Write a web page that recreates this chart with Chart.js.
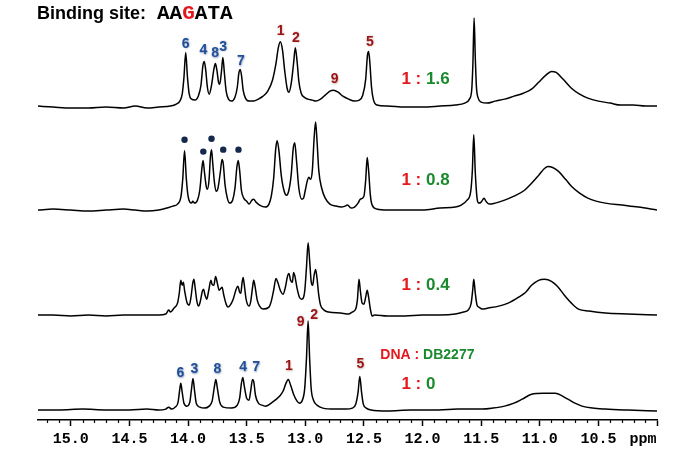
<!DOCTYPE html>
<html>
<head>
<meta charset="utf-8">
<script src="https://cdn.jsdelivr.net/npm/chart.js@4.4.1/dist/chart.umd.min.js"></script>
<style>
  html, body { margin: 0; padding: 0; background: #fff; }
  canvas { display: block; }
</style>
</head>
<body>
<canvas id="nmr" width="692" height="464"></canvas>
<script>
// Espectros de iminos (ppm, intensidad), uno por relacion DNA:DB2277
const spec16 = [[15.28,1],[15.15,0],[15.0,-1],[14.85,-1],[14.7,0],[14.55,-1],[14.45,1],[14.35,-1],[14.25,0],[14.15,1],[14.1,3],[14.07,6],[14.05,13],[14.035,30],[14.02,55],[14.005,30],[13.99,13],[13.97,8],[13.94,7],[13.91,12],[13.89,22],[13.873,42],[13.862,46],[13.85,38],[13.835,20],[13.82,13],[13.80,22],[13.78,38],[13.767,44],[13.755,38],[13.74,25],[13.73,23],[13.715,36],[13.703,50],[13.69,34],[13.675,16],[13.655,8],[13.63,6],[13.6,10],[13.58,20],[13.567,34],[13.555,38],[13.543,31],[13.53,17],[13.51,9],[13.48,6],[13.44,6],[13.40,8],[13.36,11],[13.32,16],[13.28,27],[13.25,44],[13.23,60],[13.213,66],[13.195,58],[13.175,36],[13.155,19],[13.14,15],[13.12,24],[13.10,44],[13.085,60],[13.07,46],[13.055,26],[13.035,14],[13.01,10],[12.98,8],[12.94,7],[12.91,6],[12.87,8],[12.83,12],[12.79,16],[12.76,17],[12.72,15],[12.68,11],[12.63,8],[12.58,6],[12.54,7],[12.51,12],[12.485,28],[12.47,52],[12.46,56],[12.45,46],[12.435,20],[12.42,8],[12.39,2],[12.3,1],[12.15,0],[12.0,0],[11.85,1],[11.72,2],[11.64,4],[11.6,8],[11.58,18],[11.57,45],[11.56,90],[11.55,50],[11.54,20],[11.525,9],[11.5,5],[11.45,4],[11.38,6],[11.3,8],[11.22,11],[11.14,14],[11.07,18],[11.01,25],[10.95,32],[10.9,36],[10.86,35],[10.8,28],[10.73,19],[10.66,13],[10.59,9],[10.5,6],[10.4,4],[10.31,2],[10.2,2],[10.1,1],[10.0,1]];

const spec08 = [[15.28,0],[15.15,1],[15.0,0],[14.85,-1],[14.7,0],[14.55,1],[14.45,0],[14.35,-1],[14.25,0],[14.18,2],[14.13,4],[14.09,6],[14.06,14],[14.045,32],[14.03,60],[14.015,32],[14.0,14],[13.985,8],[13.97,7],[13.96,9],[13.945,7],[13.92,10],[13.9,20],[13.882,42],[13.872,50],[13.86,38],[13.845,24],[13.835,21],[13.82,32],[13.81,53],[13.80,61],[13.79,48],[13.775,28],[13.76,19],[13.745,22],[13.725,38],[13.71,51],[13.70,47],[13.685,26],[13.665,12],[13.645,7],[13.62,10],[13.6,22],[13.583,44],[13.572,50],[13.56,40],[13.545,20],[13.525,12],[13.5,9],[13.48,6],[13.455,10],[13.44,11],[13.42,8],[13.39,5],[13.34,3],[13.31,6],[13.29,14],[13.27,32],[13.252,62],[13.24,70],[13.225,60],[13.205,35],[13.18,19],[13.16,15],[13.14,20],[13.12,36],[13.103,62],[13.09,68],[13.075,50],[13.055,22],[13.03,11],[13.015,12],[13.0,20],[12.982,30],[12.97,33],[12.955,31],[12.94,40],[12.925,72],[12.912,89],[12.9,70],[12.885,40],[12.86,22],[12.83,12],[12.79,6],[12.74,4],[12.69,3],[12.66,4],[12.64,5],[12.61,2],[12.58,3],[12.55,7],[12.53,11],[12.5,14],[12.485,30],[12.472,53],[12.46,40],[12.445,15],[12.43,5],[12.39,1],[12.3,0],[12.15,0],[12.0,0],[11.85,2],[11.72,3],[11.67,5],[11.62,10],[11.59,18],[11.575,40],[11.563,76],[11.55,38],[11.535,12],[11.52,7],[11.5,8],[11.475,12],[11.46,9],[11.43,6],[11.38,7],[11.3,10],[11.22,14],[11.13,20],[11.07,27],[11.01,35],[10.96,42],[10.93,44],[10.89,43],[10.84,39],[10.78,31],[10.73,24],[10.66,17],[10.59,12],[10.52,9],[10.44,7],[10.3,5],[10.16,3],[10.0,0]];

const spec04 = [[15.28,0],[15.15,0],[15.0,-1],[14.85,0],[14.7,-1],[14.55,0],[14.4,0],[14.25,0],[14.19,1],[14.165,5],[14.15,3],[14.12,7],[14.09,12],[14.075,22],[14.062,35],[14.05,30],[14.04,33],[14.03,25],[14.01,13],[13.99,10],[13.975,18],[13.96,32],[13.95,36],[13.94,28],[13.925,14],[13.91,9],[13.895,14],[13.878,24],[13.868,26],[13.855,20],[13.84,16],[13.825,24],[13.805,35],[13.795,31],[13.78,30],[13.765,39],[13.75,32],[13.735,25],[13.72,27],[13.71,28],[13.695,20],[13.675,11],[13.66,8],[13.64,10],[13.615,16],[13.59,26],[13.575,29],[13.56,23],[13.55,22],[13.54,32],[13.53,38],[13.52,30],[13.505,16],[13.48,9],[13.465,14],[13.45,28],[13.44,35],[13.43,30],[13.41,15],[13.39,9],[13.36,6],[13.31,8],[13.29,14],[13.27,25],[13.25,37],[13.235,33],[13.21,24],[13.19,21],[13.17,28],[13.15,40],[13.14,42],[13.125,35],[13.11,33],[13.1,43],[13.09,40],[13.07,27],[13.05,18],[13.03,16],[13.005,24],[12.99,48],[12.976,73],[12.963,55],[12.95,34],[12.937,30],[12.925,40],[12.912,46],[12.9,37],[12.885,20],[12.87,10],[12.84,5],[12.8,3],[12.7,2],[12.63,1],[12.6,3],[12.57,6],[12.555,16],[12.542,36],[12.53,24],[12.515,12],[12.5,11],[12.485,18],[12.472,25],[12.46,18],[12.445,6],[12.43,-1],[12.41,0],[12.3,-1],[12.15,-1],[12.0,0],[11.85,0],[11.72,1],[11.65,3],[11.61,5],[11.585,12],[11.572,25],[11.563,36],[11.55,22],[11.535,10],[11.52,8],[11.49,6],[11.44,7],[11.35,9],[11.27,12],[11.18,18],[11.12,23],[11.07,30],[11.01,35],[10.96,36],[10.9,34],[10.85,29],[10.79,20],[10.73,12],[10.67,6],[10.58,4],[10.44,2],[10.25,1],[10.0,0]];

const spec00 = [[15.28,0],[15.1,0],[14.9,1],[14.7,0],[14.5,0],[14.35,1],[14.25,0],[14.19,1],[14.165,3],[14.14,1],[14.11,3],[14.085,8],[14.072,20],[14.062,27],[14.05,18],[14.035,7],[14.01,4],[13.985,8],[13.97,22],[13.958,32],[13.945,20],[13.93,7],[13.9,3],[13.86,2],[13.82,4],[13.795,9],[13.775,24],[13.763,31],[13.75,22],[13.73,8],[13.7,3],[13.63,2],[13.58,5],[13.56,12],[13.545,27],[13.533,33],[13.52,24],[13.5,12],[13.48,10],[13.465,20],[13.45,31],[13.44,29],[13.425,15],[13.4,7],[13.37,5],[13.34,4],[13.28,8],[13.22,14],[13.19,19],[13.165,27],[13.145,31],[13.125,25],[13.1,16],[13.07,9],[13.05,7],[13.025,10],[13.005,22],[12.99,52],[12.976,90],[12.963,52],[12.95,22],[12.93,10],[12.9,5],[12.85,2],[12.75,1],[12.65,1],[12.6,2],[12.57,6],[12.55,18],[12.535,34],[12.52,18],[12.505,6],[12.48,2],[12.44,0],[12.3,-1],[12.1,0],[11.86,0],[11.7,1],[11.49,1],[11.4,2],[11.3,4],[11.22,7],[11.15,11],[11.07,16],[10.97,17],[10.87,17],[10.76,11],[10.7,7],[10.64,4],[10.55,2],[10.44,1],[10.25,0],[10.0,-1]];

// Relaciones y etiquetas
const ratios = ['1.6', '0.8', '0.4', '0'];
const bluePeaks = ['3', '4', '6', '7', '8'];
// [etiqueta, ppm, altura de anclaje]
const peakLabels16 = [['6',14.02,64],['4',13.87,57],['8',13.77,54],['3',13.70,61],['7',13.55,46],['1',13.21,77],['2',13.08,70],['9',12.75,28],['5',12.45,66]];
const peakLabels00 = [['6',14.065,37],['3',13.945,41],['8',13.75,41],['4',13.53,43],['7',13.42,43],['1',13.14,44],['9',13.04,89],['2',12.925,96],['5',12.53,46]];
// Puntos sobre picos (1:0.8)
const dots08 = [[14.03,71],[13.87,59],[13.80,72],[13.70,61],[13.57,61]];

const toXY = (arr) => arr.map(([x, y]) => ({ x, y }));

const SANS = '"Liberation Sans", Arial, sans-serif';
const MONO = '"Liberation Mono", "Courier New", monospace';
const RED = '#e3191c';
const GREEN = '#1b8a2e';

function drawParts(ctx, x, y, parts, font) {
  ctx.font = font;
  ctx.textBaseline = 'middle';
  ctx.textAlign = 'left';
  parts.forEach(([t, c]) => {
    ctx.fillStyle = c;
    ctx.fillText(t, x, y);
    x += ctx.measureText(t).width;
  });
}

function drawPeakLabel(ctx, text, x, y) {
  const blue = bluePeaks.includes(text);
  ctx.save();
  ctx.font = 'bold 14px ' + SANS;
  ctx.textAlign = 'center';
  ctx.textBaseline = 'middle';
  ctx.shadowColor = blue ? 'rgba(70,90,130,0.6)' : 'rgba(120,60,60,0.4)';
  ctx.shadowBlur = 2;
  ctx.shadowOffsetX = 0.5;
  ctx.shadowOffsetY = 0.5;
  ctx.fillStyle = blue ? '#1f4f9a' : '#9b1414';
  ctx.fillText(text, x, y);
  ctx.restore();
}

const annotations = {
  id: 'annotations',
  afterDraw(chart) {
    const ctx = chart.ctx;
    const xs = chart.scales.x;
    const axes = ['y16', 'y08', 'y04', 'y00'].map((id) => chart.scales[id]);

    // ticks menores cada 0.1 ppm
    ctx.save();
    ctx.strokeStyle = '#000';
    ctx.lineWidth = 1.2;
    for (let i = 100; i <= 152; i++) {
      if (i % 5 === 0) continue;
      const px = Math.round(xs.getPixelForValue(i / 10)) + 0.5;
      ctx.beginPath();
      ctx.moveTo(px, xs.top);
      ctx.lineTo(px, xs.top + 3);
      ctx.stroke();
    }
    ctx.restore();

    // ppm
    ctx.save();
    ctx.font = 'bold 15px ' + MONO;
    ctx.fillStyle = '#000';
    ctx.textAlign = 'center';
    ctx.textBaseline = 'middle';
    ctx.fillText('ppm', xs.getPixelForValue(10.12), xs.top + 19);
    ctx.restore();

    // titulo
    ctx.save();
    ctx.textBaseline = 'alphabetic';
    ctx.font = 'bold 18px ' + SANS;
    ctx.fillStyle = '#000';
    ctx.fillText('Binding site:', 37, 19);
    let tx = 157;
    ctx.font = 'bold 21px ' + MONO;
    [['AA', '#000'], ['G', RED], ['ATA', '#000']].forEach(([t, c]) => {
      ctx.fillStyle = c;
      ctx.fillText(t, tx, 19);
      tx += ctx.measureText(t).width;
    });
    ctx.restore();

    // etiquetas de picos
    peakLabels16.forEach(([t, p, h]) => drawPeakLabel(ctx, t, xs.getPixelForValue(p), axes[0].getPixelForValue(h)));
    peakLabels00.forEach(([t, p, h]) => drawPeakLabel(ctx, t, xs.getPixelForValue(p), axes[3].getPixelForValue(h)));

    // relaciones
    const ratioLift = [28, 30, 30, 26];
    ctx.save();
    ratios.forEach((r, i) => {
      drawParts(ctx, xs.getPixelForValue(12.18), axes[i].getPixelForValue(ratioLift[i]),
        [['1 : ', RED], [r, GREEN]], 'bold 17px ' + SANS);
    });
    drawParts(ctx, xs.getPixelForValue(12.36), axes[3].getPixelForValue(55),
      [['DNA : ', RED], ['DB2277', GREEN]], 'bold 14px ' + SANS);
    ctx.restore();
  }
};

function traceDataset(spec, axis) {
  return {
    data: toXY(spec),
    yAxisID: axis,
    borderColor: '#000',
    borderWidth: 1.5,
    pointRadius: 0,
    fill: false,
    cubicInterpolationMode: 'monotone',
  };
}

const hiddenY = (min, max) => ({ type: 'linear', display: false, min, max });

new Chart(document.getElementById('nmr'), {
  type: 'line',
  data: {
    datasets: [
      traceDataset(spec16, 'y16'),
      traceDataset(spec08, 'y08'),
      traceDataset(spec04, 'y04'),
      traceDataset(spec00, 'y00'),
      {
        data: toXY(dots08),
        yAxisID: 'y08',
        showLine: false,
        pointRadius: 3.2,
        pointBackgroundColor: '#14284c',
        pointBorderWidth: 0,
      },
    ],
  },
  options: {
    responsive: false,
    animation: false,
    events: [],
    layout: { padding: { left: 38, right: 35, top: 10, bottom: 12 } },
    plugins: { legend: { display: false }, tooltip: { enabled: false } },
    scales: {
      x: {
        type: 'linear',
        reverse: true,
        min: 10.0,
        max: 15.28,
        ticks: {
          stepSize: 0.5,
          includeBounds: false,
          autoSkip: false,
          maxRotation: 0,
          padding: 4,
          color: '#000',
          font: { family: MONO, size: 15, weight: 'bold' },
          callback: (v) => (v === 10 ? '' : Number(v).toFixed(1)),
        },
        grid: { drawOnChartArea: false, tickLength: 6, tickWidth: 1.5, tickColor: '#000' },
        border: { color: '#000', width: 1.5 },
      },
      y16: hiddenY(-316, 98),
      y08: hiddenY(-212, 202),
      y04: hiddenY(-106, 308),
      y00: hiddenY(-10, 404),
    },
  },
  plugins: [annotations],
});
</script>
</body>
</html>
